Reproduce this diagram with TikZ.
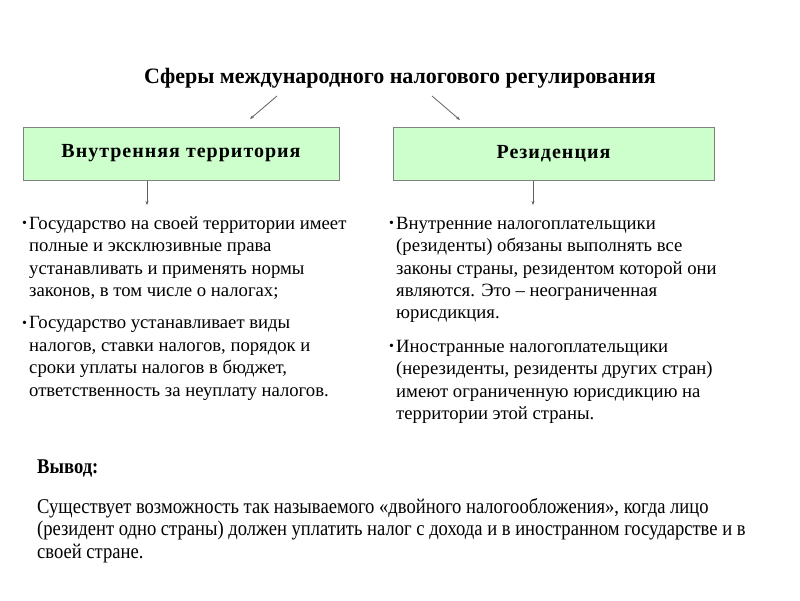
\documentclass[tikz,border=0pt]{standalone}
\usepackage{fontspec}
\setmainfont{Liberation Serif}
\newfontfamily\condfont[FakeStretch=0.885]{Liberation Serif}
\newfontfamily\spacedfont[LetterSpace=5]{Liberation Serif}
\usetikzlibrary{arrows.meta}
\definecolor{boxgreen}{HTML}{CCFFCC}
\definecolor{boxline}{HTML}{808080}
\definecolor{arrowgray}{HTML}{606060}
\tikzset{
  headbox/.style={draw=boxline, line width=1pt, fill=boxgreen, minimum width=#1, minimum height=53pt, inner sep=0pt, font=\spacedfont\fontsize{20}{21}\selectfont\bfseries},
  conn/.style={draw=arrowgray, line width=0.8pt, -{Stealth[length=4pt,width=3pt]}},
  bodytext/.style={anchor=north west, inner sep=0pt, align=left, font=\fontsize{18.7}{22.4}\selectfont},
}
\newcommand{\bul}{\makebox[7pt][l]{\raisebox{1.5pt}{\fontsize{14}{14}\selectfont•}}\strut}
\newcommand{\ind}{\hspace*{7pt}}
\begin{document}
\begin{tikzpicture}[x=1pt,y=-1pt]
\useasboundingbox[fill=white] (0,0) rectangle (800,600);
\node[font=\fontsize{22}{24}\selectfont\bfseries] (title) at (400,78) {Сферы международного налогового регулирования};
\node[headbox=316pt] (left) at (181,153.5) {Внутренняя территория};
\node[headbox=321pt] (right) at (553.5,153.5) {Резиденция};
\coordinate (ls) at (277,96);
\coordinate (rs) at (432,96);
\draw[conn] (ls) -- (250,119);
\draw[conn] (rs) -- (460,120);
\coordinate (ld) at (147,205);
\coordinate (rd) at (533,205);
\draw[conn] (left.south -| ld) -- (ld);
\draw[conn] (right.south -| rd) -- (rd);
\node[bodytext] (ltxt1) at (22,213.5) {\bul Государство на своей территории имеет\\ \ind полные и эксклюзивные права\\ \ind устанавливать и применять нормы\\ \ind законов, в том числе о налогах;};
\node[bodytext] (ltxt2) at (22,313) {\bul Государство устанавливает виды\\ \ind налогов, ставки налогов, порядок и\\ \ind сроки уплаты налогов в бюджет,\\ \ind ответственность за неуплату налогов.};
\node[bodytext] (rtxt1) at (389,213.5) {\bul Внутренние налогоплательщики\\ \ind (резиденты) обязаны выполнять все\\ \ind законы страны, резидентом которой они\\ \ind являются. Это – неограниченная\\ \ind юрисдикция.};
\node[bodytext] (rtxt2) at (389,336.5) {\bul Иностранные налогоплательщики\\ \ind (нерезиденты, резиденты других стран)\\ \ind имеют ограниченную юрисдикцию на\\ \ind территории этой страны.};
\node[anchor=north west, inner sep=0pt, font=\condfont\fontsize{21}{22}\selectfont\bfseries] (concl) at (37,460) {Вывод:};
\node[bodytext, font=\condfont\fontsize{21}{22.2}\selectfont] (ctxt) at (37,498.5) {Существует возможность так называемого «двойного налогообложения», когда лицо\\ (резидент одно страны) должен уплатить налог с дохода и в иностранном государстве и в\\ своей стране.};
\end{tikzpicture}
\end{document}
